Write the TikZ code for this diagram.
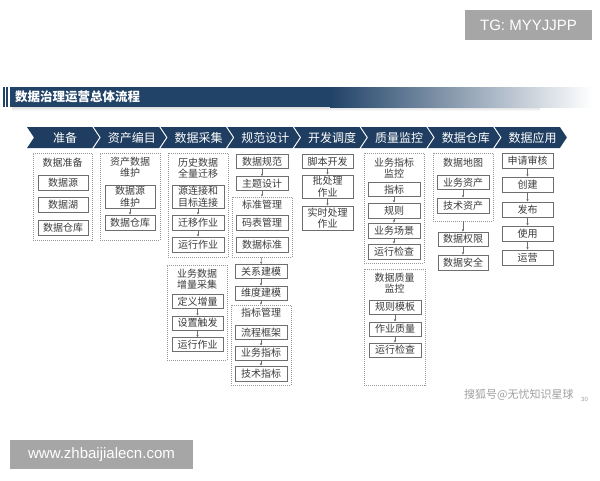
\documentclass[tikz,border=0pt]{standalone}
\usepackage{fontspec}
\setmainfont{Noto Sans CJK SC}
\newfontfamily\latinfont{Liberation Sans}
\usetikzlibrary{arrows.meta}
\definecolor{navy}{RGB}{30,61,96}
\definecolor{barblue}{RGB}{33,67,104}
\definecolor{boxgray}{RGB}{110,110,110}
\definecolor{grpgray}{RGB}{150,150,150}
\definecolor{txtgray}{RGB}{60,60,60}
\definecolor{wmgray}{RGB}{166,166,166}

\begin{document}
\begin{tikzpicture}[x=1pt,y=-1pt]
		\tikzset{box/.style={draw=boxgray, line width=0.7pt, fill=white, text=txtgray,
			minimum width=51pt, minimum height=14pt, inner sep=0pt, align=center,
			font=\fontsize{10}{11.5}\selectfont},
			grp/.style={draw=grpgray, dash pattern=on 1pt off 1pt, line width=0.6pt, inner sep=0pt},
			ttl/.style={text=txtgray, inner sep=0pt, align=center, font=\fontsize{10}{11.5}\selectfont},
			chev/.style={text=white, inner sep=0pt, font=\fontsize{12}{14}\selectfont},
			link/.style={-{Latex[length=2.2pt,width=2.4pt]}, draw=boxgray, line width=0.5pt},
			wmark/.style={fill=wmgray, text=white, inner sep=0pt, font=\latinfont\fontsize{15}{17}\selectfont}}
		\useasboundingbox (0,0) rectangle (600,480);

		% watermarks
		\node[wmark, minimum width=127pt, minimum height=30pt] (tg) at (528.5,25) {TG: MYYJJPP};
		\node[wmark, minimum width=183pt, minimum height=29pt] (www) at (101.5,454.5) {www.zhbaijialecn.com};
		\node[anchor=west, text=gray!75, inner sep=0pt, font=\fontsize{11}{13}\selectfont] (sohu) at (464,395) {搜狐号@无忧知识星球};
		\node[anchor=west, text=gray!75, inner sep=0pt, font=\latinfont\fontsize{6}{7}\selectfont] (pg) at (581,399) {30};

		% title bar
		\shade[top color=gray!25, bottom color=white] (12,107) rectangle (540,111);
		\fill[barblue] (2.5,87) rectangle (4.5,107);
		\fill[barblue] (6,87) rectangle (7.5,107);
		\fill[barblue] (10,87) rectangle (330,107);
		\shade[left color=barblue, right color=white] (330,87) rectangle (592,107);
		\node[anchor=west, text=white, inner sep=0pt, font=\bfseries\fontsize{12.5}{14}\selectfont] (title) at (15,97) {数据治理运营总体流程};

		% stages
		\foreach \lab [count=\i from 0] in {准备,资产编目,数据采集,规范设计,开发调度,质量监控,数据仓库,数据应用}{
			\fill[navy] ({27+\i*66.8},127) -- ++(65.3,0) -- ++(7,10.5) -- ++(-7,10.5) -- ++(-65.3,0) -- ++(7,-10.5) -- cycle;
			\node[chev] (s\i) at ({27+\i*66.8+38},137.5) {\lab};
		}

		% 准备
		\node[grp, minimum width=59pt, minimum height=87pt] (g1) at (62.5,196.5) {};
		\node[ttl] (t1) at (62.5,163) {数据准备};
		\node[box, minimum width=50pt, minimum height=15pt] (a1) at (63,182.5) {数据源};
		\node[box, minimum width=50pt, minimum height=15pt] (a2) at (63,204.5) {数据湖};
		\node[box, minimum width=50pt, minimum height=15pt] (a3) at (63,227.5) {数据仓库};

		% 资产编目
		\node[grp, minimum width=60pt, minimum height=87pt] (g2) at (130,196.5) {};
		\node[ttl] (t2) at (130,167) {资产数据\\维护};
		\node[box, minimum width=50pt, minimum height=23pt] (b1) at (130,196.5) {数据源\\维护};
		\node[box, minimum width=50pt, minimum height=15pt] (b2) at (130,222.5) {数据仓库};
		\draw[link] (b1) -- (b2);

		% 数据采集
		\node[grp, minimum width=60pt, minimum height=104pt] (g3) at (198,205) {};
		\node[ttl] (t3) at (198,168) {历史数据\\全量迁移};
		\node[box, minimum width=52pt, minimum height=23pt] (c1) at (198,196.5) {源连接和\\目标连接};
		\node[box, minimum width=52pt, minimum height=15pt] (c2) at (198,222.5) {迁移作业};
		\node[box, minimum width=52pt, minimum height=15pt] (c3) at (198,244.5) {运行作业};
		\draw[link] (c1) -- (c2);
		\draw[link] (c2) -- (c3);
		\node[grp, minimum width=60pt, minimum height=95pt] (g4) at (197,312.5) {};
		\node[ttl] (t4) at (197,279) {业务数据\\增量采集};
		\node[box] (c4) at (197.5,301.5) {定义增量};
		\node[box] (c5) at (197.5,323) {设置触发};
		\node[box] (c6) at (197.5,344.5) {运行作业};
		\draw[link] (c4) -- (c5);
		\draw[link] (c5) -- (c6);

		% 规范设计
		\node[box, minimum width=52pt] (d1) at (262,161.5) {数据规范};
		\node[box, minimum width=52pt] (d2) at (262,183.5) {主题设计};
		\node[grp, minimum width=60pt, minimum height=60pt] (g5) at (262,227) {};
		\node[ttl] (t5) at (262,205) {标准管理};
		\node[box, minimum width=52pt, minimum height=15pt] (d3) at (262,222.5) {码表管理};
		\node[box, minimum width=52pt, minimum height=15pt] (d4) at (262,244.5) {数据标准};
		\node[box, minimum width=52pt] (d5) at (261,271.5) {关系建模};
		\node[box, minimum width=52pt] (d6) at (261,293) {维度建模};
		\node[grp, minimum width=60pt, minimum height=80pt] (g6) at (261,345) {};
		\node[ttl] (t6) at (261,313) {指标管理};
		\node[box, minimum width=52pt] (d7) at (261,332.5) {流程框架};
		\node[box, minimum width=52pt] (d8) at (261,353) {业务指标};
		\node[box, minimum width=52pt, minimum height=15pt] (d9) at (261,373.5) {技术指标};
		\draw[link] (d1) -- (d2);
		\draw[link] (d2) -- (g5);
		\draw[link] (g5) -- (d5);
		\draw[link] (d5) -- (d6);
		\draw[link] (d6) -- (g6);
		\draw[link] (d7) -- (d8);
		\draw[link] (d8) -- (d9);

		% 开发调度
		\node[box] (e1) at (327.5,161.5) {脚本开发};
		\node[box, minimum height=23pt] (e2) at (327.5,186.5) {批处理\\作业};
		\node[box, minimum height=24pt] (e3) at (327.5,218) {实时处理\\作业};
		\draw[link] (e1) -- (e2);
		\draw[link] (e2) -- (e3);

		% 质量监控
		\node[grp, minimum width=60pt, minimum height=110pt] (g7) at (394,208) {};
		\node[ttl] (t7) at (394,168) {业务指标\\监控};
		\node[box, minimum width=52pt] (f1) at (394,189.5) {指标};
		\node[box, minimum width=52pt, minimum height=15pt] (f2) at (394,210.5) {规则};
		\node[box, minimum width=52pt, minimum height=15pt] (f3) at (394,230.5) {业务场景};
		\node[box, minimum width=52pt, minimum height=15pt] (f4) at (394,251.5) {运行检查};
		\draw[link] (f1) -- (f2);
		\draw[link] (f2) -- (f3);
		\draw[link] (f3) -- (f4);
		\node[grp, minimum width=61pt, minimum height=116pt] (g8) at (394.5,327) {};
		\node[ttl] (t8) at (394.5,283) {数据质量\\监控};
		\node[box, minimum width=52pt] (f5) at (395,307) {规则模板};
		\node[box, minimum width=52pt] (f6) at (395,329) {作业质量};
		\node[box, minimum width=52pt] (f7) at (395,350) {运行检查};
		\draw[link] (f5) -- (f6);
		\draw[link] (f6) -- (f7);

		% 数据仓库
		\node[grp, minimum width=60pt, minimum height=68pt] (g9) at (463,187) {};
		\node[ttl] (t9) at (463,163) {数据地图};
		\node[box, minimum width=52pt] (h1) at (463,182.5) {业务资产};
		\node[box, minimum width=52pt, minimum height=15pt] (h2) at (463,205.5) {技术资产};
		\node[box, minimum width=50pt] (h3) at (463,239) {数据权限};
		\node[box, minimum width=50pt, minimum height=15pt] (h4) at (463,262.5) {数据安全};
		\draw[link] (h1) -- (h2);
		\draw[link] (g9) -- (h3);
		\draw[link] (h3) -- (h4);

		% 数据应用
		\node[box, minimum height=15pt] (k1) at (527.5,160.5) {申请审核};
		\node[box, minimum height=15pt] (k2) at (527.5,184.5) {创建};
		\node[box, minimum height=15pt] (k3) at (527.5,209.5) {发布};
		\node[box, minimum height=15pt] (k4) at (527.5,233.5) {使用};
		\node[box, minimum height=15pt] (k5) at (527.5,257.5) {运营};
		\draw[link] (k1) -- (k2);
		\draw[link] (k2) -- (k3);
		\draw[link] (k3) -- (k4);
		\draw[link] (k4) -- (k5);

\end{tikzpicture}
\end{document}
